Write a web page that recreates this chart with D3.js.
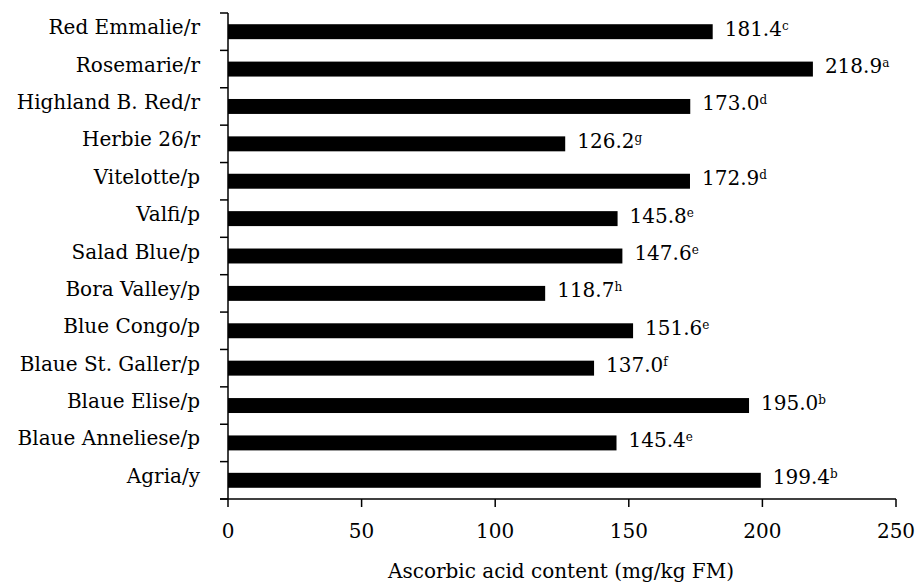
<!DOCTYPE html>
<html><head><meta charset="utf-8">
<script src="https://cdn.jsdelivr.net/npm/d3@7"></script>
<style>body{margin:0;background:#fff}svg{display:block}text{font-family:"DejaVu Serif",serif;fill:#000}</style>
</head><body><svg id="c" width="917" height="585"></svg>
<script>
const categories = ["Red Emmalie/r","Rosemarie/r","Highland B. Red/r","Herbie 26/r","Vitelotte/p","Valfi/p","Salad Blue/p","Bora Valley/p","Blue Congo/p","Blaue St. Galler/p","Blaue Elise/p","Blaue Anneliese/p","Agria/y"];
const values = [181.4,218.9,173.0,126.2,172.9,145.8,147.6,118.7,151.6,137.0,195.0,145.4,199.4];
const letters = ["c","a","d","g","d","e","e","h","e","f","b","e","b"];
const xTicks = [0,50,100,150,200,250];
const xTitle = "Ascorbic acid content (mg/kg FM)";

const svg = d3.select("#c");
const L = 228, R = 896, T = 13, B = 499;
const x = d3.scaleLinear().domain([0,250]).range([L,R]);
const y = d3.scaleBand().domain(categories).range([T,B]).paddingInner(0.6).paddingOuter(0.3);
const band = d3.scaleBand().domain(categories).range([T,B]);
const FS = 20;

svg.selectAll("rect.bar").data(values).join("rect")
  .attr("x", x(0)).attr("y",(d,i)=>y(categories[i]))
  .attr("width", d=>x(d)-x(0)).attr("height", y.bandwidth()).attr("fill","#000");

const vl = svg.selectAll("text.val").data(values).join("text")
  .attr("x", d=>x(d)+12).attr("y",(d,i)=>band(categories[i])+band.bandwidth()/2+4)
  .attr("font-size",FS);
vl.append("tspan").text(d=>d.toFixed(1));
vl.append("tspan").attr("font-size",12).attr("dy",-6).text((d,i)=>letters[i]);

const ya = svg.append("g");
ya.append("line").attr("x1",L).attr("x2",L).attr("y1",T).attr("y2",B).attr("stroke","#000").attr("stroke-width",1.5);
const yt = [...categories.map(c=>band(c)), B];
ya.selectAll("line.t").data(yt).join("line").attr("x1",L-8).attr("x2",L).attr("y1",d=>d).attr("y2",d=>d).attr("stroke","#000").attr("stroke-width",1.5);
ya.selectAll("text").data(categories).join("text")
  .attr("x",200).attr("y",c=>band(c)+band.bandwidth()/2+2.5).attr("text-anchor","end").attr("font-size",FS).text(c=>c);

const xa = svg.append("g");
xa.append("line").attr("x1",L-8).attr("x2",R).attr("y1",B).attr("y2",B).attr("stroke","#000").attr("stroke-width",1.5);
xa.selectAll("line.t").data(xTicks).join("line").attr("x1",d=>x(d)).attr("x2",d=>x(d)).attr("y1",B).attr("y2",B+8).attr("stroke","#000").attr("stroke-width",1.5);
xa.selectAll("text").data(xTicks).join("text").attr("x",d=>x(d)).attr("y",538).attr("text-anchor","middle").attr("font-size",FS).text(d=>d);
svg.append("text").attr("x",561).attr("y",578).attr("text-anchor","middle").attr("font-size",FS).text(xTitle);
</script></body></html>
